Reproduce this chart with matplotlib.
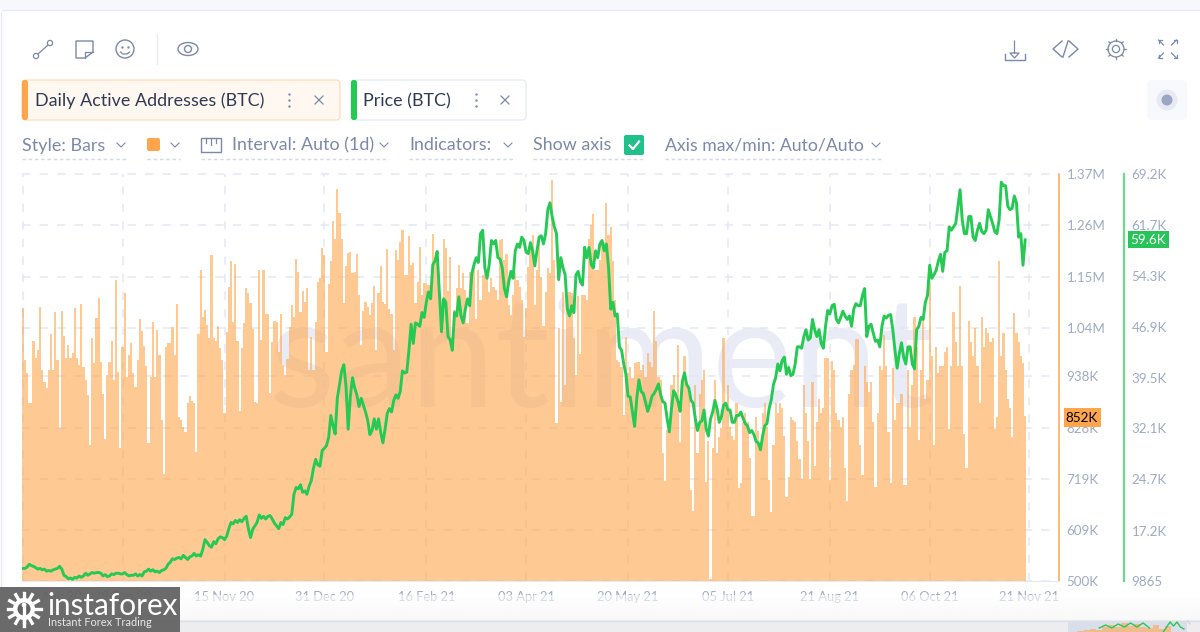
import numpy as np
import pandas as pd
import matplotlib
matplotlib.use('Agg')
import matplotlib.pyplot as plt
from matplotlib.patches import FancyBboxPatch, Rectangle, Circle, Ellipse, Polygon

plt.rcParams['font.family'] = ['Lato', 'DejaVu Sans']

# daily active addresses, thousands, one value per day from 14 Aug 20
active = [
    1084, 972, 945, 880, 880, 1012, 976, 994, 1086, 951,
    925, 912, 950, 1028, 951, 1076, 972, 827, 1078, 1024,
    976, 1004, 976, 988, 1083, 976, 962, 1092, 958, 930,
    898, 790, 1019, 965, 1063, 1104, 969, 900, 803, 940,
    969, 1012, 930, 1143, 947, 784, 1001, 1115, 937, 983,
    1009, 945, 915, 972, 1061, 1035, 1003, 960, 795, 937,
    1053, 937, 1037, 983, 844, 729, 1000, 1008, 1008, 1044,
    983, 1092, 850, 845, 830, 818, 880, 895, 885, 880,
    776, 1029, 1165, 1065, 1079, 1047, 1019, 1197, 1019, 1012,
    1045, 997, 972, 859, 1033, 1129, 1183, 1054, 1178, 1014,
    863, 997, 1052, 1126, 1115, 1094, 1039, 883, 880, 1165,
    1015, 1165, 1071, 1071, 902, 1010, 1056, 1054, 990, 1071,
    962, 940, 974, 1044, 1089, 1065, 1188, 1161, 1074, 1120,
    1097, 1126, 951, 1022, 951, 1054, 1140, 1147, 1211, 1197,
    990, 1135, 1183, 1270, 1230, 1337, 1286, 1230, 1095, 1173,
    1202, 1204, 1158, 1161, 1199, 1111, 1004, 1078, 1096, 1086,
    1069, 1095, 1130, 994, 1115, 1173, 1097, 1092, 1209, 1081,
    1071, 994, 1208, 1186, 1225, 1250, 1154, 1154, 1237, 1176,
    1179, 1094, 1140, 1215, 1111, 1138, 1138, 1133, 1122, 1242,
    1183, 1179, 1115, 1101, 1230, 1211, 1120, 1193, 1022, 1080,
    1126, 1176, 1126, 1158, 1122, 1052, 1161, 1143, 1179, 1059,
    1165, 1101, 1154, 1158, 1151, 1118, 1147, 1129, 1122, 1101,
    1229, 1232, 1186, 1200, 1090, 1069, 1112, 1158, 1143, 1129,
    1101, 1022, 1084, 1172, 1222, 1240, 1090, 1165, 1236, 1150,
    1045, 1118, 1168, 1158, 1357, 1186, 837, 1040, 883, 1118,
    920, 1090, 1118, 1115, 1020, 940, 1110, 985, 1112, 1112,
    1101, 1232, 1261, 1284, 1165, 1165, 1186, 1232, 1225, 1307,
    1240, 1257, 1183, 1101, 972, 969, 958, 855, 1022, 944,
    958, 933, 965, 969, 969, 951, 961, 937, 988, 969,
    958, 1078, 1012, 937, 930, 773, 714, 823, 819, 920,
    940, 905, 1004, 798, 930, 980, 925, 900, 694, 650,
    920, 773, 900, 930, 950, 712, 800, 504, 784, 930,
    773, 808, 826, 1019, 880, 920, 830, 810, 801, 880,
    698, 709, 840, 860, 840, 762, 640, 640, 850, 820,
    780, 860, 880, 830, 716, 647, 790, 880, 860, 880,
    870, 810, 680, 723, 850, 844, 840, 800, 760, 719,
    919, 860, 800, 719, 925, 745, 840, 890, 860, 870,
    976, 976, 716, 970, 950, 860, 845, 830, 850, 741,
    670, 900, 950, 961, 1017, 1017, 790, 727, 960, 925,
    905, 925, 840, 700, 860, 960, 950, 1026, 960, 819,
    709, 955, 845, 880, 880, 900, 705, 705, 950, 830,
    920, 1064, 1000, 801, 950, 1060, 890, 930, 1140, 980,
    791, 1000, 945, 960, 960, 990, 1000, 825, 960, 1075,
    1010, 960, 1131, 960, 815, 741, 1055, 1010, 980, 1040,
    960, 880, 1065, 1000, 1040, 1030, 1010, 1020, 825, 850,
    1185, 980, 1030, 950, 890, 870, 808, 1072, 1030, 1010,
    980, 965, 852,
]

# BTC price, thousands USD, same days
price = [
    11.7, 11.7, 11.9, 12.3, 12.1, 12.0, 11.8, 11.6, 11.7, 11.5,
    11.6, 11.3, 11.4, 11.3, 11.5, 11.6, 11.7, 12.0, 11.6, 10.7,
    10.5, 10.2, 10.3, 10.1, 10.4, 10.3, 10.6, 10.4, 10.6, 11.0,
    10.7, 10.9, 11.1, 11.0, 11.1, 11.1, 11.0, 10.6, 10.8, 10.5,
    10.6, 10.9, 10.8, 11.0, 11.0, 10.9, 10.9, 11.1, 10.8, 10.6,
    10.7, 10.7, 10.9, 10.6, 10.8, 10.6, 11.2, 11.3, 11.6, 11.3,
    11.5, 11.2, 11.3, 11.1, 11.4, 11.5, 11.7, 12.3, 12.6, 13.1,
    13.0, 13.2, 13.3, 13.1, 13.6, 13.3, 13.0, 13.4, 13.5, 13.9,
    13.5, 13.7, 13.5, 14.5, 15.9, 15.5, 15.0, 14.8, 15.6, 15.3,
    16.0, 16.3, 16.2, 15.9, 16.4, 17.5, 18.4, 18.2, 18.7, 18.4,
    18.8, 18.5, 19.0, 19.3, 17.5, 16.2, 17.4, 17.9, 18.4, 19.5,
    19.0, 19.3, 18.9, 19.3, 19.4, 18.9, 18.3, 17.9, 17.5, 18.4,
    18.1, 19.1, 18.9, 19.2, 19.6, 22.5, 23.5, 23.3, 23.9, 22.8,
    23.0, 22.5, 23.7, 24.5, 26.3, 27.6, 26.8, 26.6, 28.9, 29.2,
    29.6, 30.8, 34.0, 32.5, 31.3, 36.5, 38.5, 40.5, 41.4, 38.2,
    32.0, 36.8, 39.5, 38.0, 37.0, 35.3, 36.5, 35.5, 34.5, 33.3,
    31.2, 31.8, 33.5, 32.0, 33.5, 31.5, 30.0, 32.0, 34.3, 35.0,
    34.5, 36.2, 37.0, 36.5, 37.5, 40.5, 40.2, 40.3, 43.5, 47.3,
    44.5, 47.5, 47.3, 47.0, 49.0, 48.3, 50.5, 52.0, 51.0, 56.0,
    56.5, 57.9, 52.0, 46.2, 51.0, 50.5, 45.5, 45.0, 43.5, 49.0,
    48.5, 51.3, 48.5, 47.5, 49.5, 51.0, 50.0, 54.7, 56.0, 57.0,
    56.3, 60.5, 61.0, 55.5, 54.0, 56.0, 59.5, 59.0, 59.5, 57.0,
    56.8, 55.5, 52.5, 51.3, 53.5, 55.0, 54.0, 58.0, 59.0, 58.5,
    60.0, 59.5, 57.8, 57.6, 59.2, 58.0, 55.8, 58.0, 60.0, 60.2,
    59.0, 60.5, 64.0, 65.0, 63.0, 61.5, 60.5, 53.8, 57.0, 55.5,
    54.5, 49.5, 48.5, 50.0, 49.0, 54.5, 55.0, 53.5, 53.0, 58.5,
    57.0, 58.5, 56.0, 55.5, 58.0, 57.0, 59.0, 59.5, 58.0, 59.0,
    55.5, 49.5, 50.5, 48.5, 48.8, 44.0, 43.5, 41.5, 40.0, 36.8,
    36.7, 34.5, 32.4, 36.5, 39.2, 37.5, 37.2, 36.0, 34.6, 35.5,
    36.8, 37.2, 37.8, 38.6, 37.0, 36.0, 35.8, 33.5, 31.6, 35.0,
    37.6, 37.0, 36.0, 34.6, 39.0, 40.2, 38.5, 38.0, 36.2, 35.8,
    33.5, 31.8, 33.0, 33.2, 34.8, 32.0, 31.0, 33.5, 34.5, 36.2,
    35.0, 33.0, 33.8, 35.5, 35.8, 34.8, 34.8, 33.0, 33.0, 34.0,
    34.0, 34.5, 33.6, 32.8, 32.5, 31.5, 31.8, 31.2, 30.2, 30.0,
    29.0, 31.0, 32.5, 32.8, 35.0, 36.3, 38.5, 39.5, 41.5, 40.5,
    42.0, 42.5, 40.0, 41.0, 39.8, 40.0, 41.5, 44.0, 44.0, 43.8,
    45.5, 46.5, 45.0, 45.3, 48.0, 46.5, 45.5, 46.5, 44.5, 43.8,
    47.0, 49.3, 48.8, 50.0, 50.2, 48.0, 47.5, 48.3, 49.2, 48.5,
    48.0, 48.5, 47.0, 49.5, 50.3, 50.0, 50.0, 51.5, 52.5, 45.5,
    47.0, 47.3, 46.0, 44.8, 45.0, 44.0, 47.0, 48.5, 48.2, 48.6,
    48.7, 46.5, 43.5, 40.9, 43.0, 44.6, 42.5, 41.5, 44.0, 44.0,
    41.5, 40.8, 46.5, 47.0, 48.3, 48.0, 50.5, 51.5, 55.9, 54.0,
    54.5, 55.2, 56.5, 57.5, 55.0, 57.8, 58.0, 61.5, 61.0, 61.5,
    62.0, 64.5, 66.9, 62.5, 60.5, 60.5, 63.0, 63.0, 60.0, 59.5,
    61.0, 62.0, 60.8, 60.5, 61.0, 64.0, 63.0, 62.0, 60.8, 60.5,
    62.5, 68.0, 67.5, 67.5, 64.5, 64.0, 64.2, 66.0, 65.0, 60.0,
    60.5, 55.9, 59.6,
]

date_ticks = ['2020-08-14', '2020-09-29', '2020-11-15', '2020-12-31', '2021-02-16', '2021-04-03',
              '2021-05-20', '2021-07-05', '2021-08-21', '2021-10-06', '2021-11-21']
date_labels = ['14 Aug 20', '29 Sep 20', '15 Nov 20', '31 Dec 20', '16 Feb 21', '03 Apr 21',
               '20 May 21', '05 Jul 21', '21 Aug 21', '06 Oct 21', '21 Nov 21']
active_ticks = [1370, 1260, 1150, 1040, 938, 828, 719, 609, 500]
active_labels = ['1.37M', '1.26M', '1.15M', '1.04M', '938K', '828K', '719K', '609K', '500K']
price_ticks = [69.2, 61.7, 54.3, 46.9, 39.5, 32.1, 24.7, 17.2, 9.865]
price_labels = ['69.2K', '61.7K', '54.3K', '46.9K', '39.5K', '32.1K', '24.7K', '17.2K', '9865']

ORANGE = '#ffa64d'
GREEN = '#26c953'
GREY = '#9faac4'
MUTED = '#7c89a8'
DARK = '#2f3a55'
ICON = '#7b88a6'
GRID = '#e5e8f4'

W, H = 1200, 632
fig = plt.figure(figsize=(12, 6.32), dpi=100)
dates = pd.date_range('2020-08-14', periods=len(active))

# main chart, 22-1059 px wide, 174-581 px high
ax = fig.add_axes([22 / W, 1 - 581 / H, (1059 - 22) / W, (581 - 174) / H])
ax.bar(dates, active, width=1.0, color=ORANGE, alpha=0.6, linewidth=0, zorder=2)
ax.set_xlim(dates[0] - pd.Timedelta(hours=8), dates[0] + pd.Timedelta(days=477.6))
ax.set_ylim(500, 1370)
ax.set_xticks(pd.to_datetime(date_ticks), date_labels)
ax.set_yticks(active_ticks, active_labels)
ax.set_axisbelow(True)
ax.grid(True, color=GRID, lw=1.1, ls=(0, (5.5, 6)), zorder=1, clip_on=False)
for s in ['left', 'top']:
    ax.spines[s].set_visible(False)
ax.spines['bottom'].set_color('#e6e8f2')
ax.spines['right'].set_color(ORANGE)
ax.spines['right'].set_linewidth(1.1)
ax.text(0.5585, 0.4275, 'santiment', transform=ax.transAxes, ha='center', va='baseline',
        fontsize=110, color='#e9ecf6', zorder=0.5, family='Lato')

# price on its own axis further right
ax2 = ax.twinx()
ax.yaxis.tick_right()
ax.tick_params(axis='x', length=0, pad=7, labelsize=9.3, labelcolor=GREY)
ax.tick_params(axis='y', length=0, pad=5.5, labelsize=9.6, labelcolor=GREY)
ax.get_xticklabels()[0].set_ha('left')
ax2.plot(dates, price, color=GREEN, lw=2.1, solid_joinstyle='round', zorder=3)
ax2.set_ylim(9.865, 69.2)
ax2.set_yticks(price_ticks, price_labels)
ax2.tick_params(axis='y', length=0, pad=5.5, labelsize=9.6, labelcolor=GREY)
for s in ['left', 'top', 'bottom']:
    ax2.spines[s].set_visible(False)
ax2.spines['right'].set_position(('outward', 65 * 0.72))
ax2.spines['right'].set_color('#6ed98c')
ax2.spines['right'].set_linewidth(1.6)

# everything around the chart, in pixel coordinates
ui = fig.add_axes([0, 0, 1, 1], zorder=5)
ui.set_xlim(0, W)
ui.set_ylim(H, 0)
ui.axis('off')
ui.patch.set_alpha(0)


def rbox(x0, y0, x1, y1, r=3, fc='white', ec='none', lw=1.0, z=1, alpha=None):
    p = FancyBboxPatch((x0 + r, y0 + r), x1 - x0 - 2 * r, y1 - y0 - 2 * r,
                       boxstyle=f'round,pad={r},rounding_size={r}', fc=fc, ec=ec, lw=lw, zorder=z, alpha=alpha)
    ui.add_patch(p)


def chevron(x, y):
    ui.plot([x - 4, x, x + 4], [y - 2, y + 2, y - 2], color=MUTED, lw=0.8, zorder=3)


def under(x0, x1):
    ui.plot([x0, x1], [159, 159], color='#d5d9e6', lw=1, ls=(0, (2.5, 2)), zorder=3)


def cross(x, y, r=4):
    ui.plot([x - r, x + r], [y - r, y + r], color=MUTED, lw=0.9, zorder=3)
    ui.plot([x - r, x + r], [y + r, y - r], color=MUTED, lw=0.9, zorder=3)


def kebab(x, y):
    ui.scatter([x, x, x], [y - 6, y, y + 6], s=3, color=MUTED, zorder=3, linewidths=0)


# page edges
ui.add_patch(Rectangle((0, 0), W, 10, fc='#f7f8fc', ec='none', zorder=0))
ui.plot([2, W], [10, 10], color='#e7e9f3', lw=1, zorder=1)
ui.plot([1, 1], [12, 620], color='#e7e9f3', lw=1, zorder=1)
shade = np.linspace(1, 0.955, 30).reshape(-1, 1)
ui.imshow(shade, extent=(0, W, 620, 595), cmap='gray', vmin=0, vmax=1, aspect='auto', zorder=0.5, alpha=0.6)
ui.set_xlim(0, W)
ui.set_ylim(H, 0)
ui.add_patch(Rectangle((0, 620), W, 12, fc='#ededf0', ec='none', zorder=1))
ui.plot([0, W], [620.5, 620.5], color='#dcdfe9', lw=1, zorder=1.5)

# toolbar, left
ui.add_patch(Circle((36, 56), 2.6, fc='white', ec=ICON, lw=0.9, zorder=3))
ui.add_patch(Circle((50, 43), 2.6, fc='white', ec=ICON, lw=0.9, zorder=3))
ui.plot([38, 48], [54, 45], color=ICON, lw=0.9, zorder=2)
ui.add_patch(Polygon([(76, 41), (93, 41), (93, 52), (85, 58), (76, 58)], closed=True, fc='white', ec=ICON, lw=1, zorder=3))
ui.plot([85, 85, 93], [58, 52, 52], color=ICON, lw=0.9, zorder=3)
ui.add_patch(Circle((125, 49), 9, fc='white', ec=ICON, lw=1, zorder=3))
ui.scatter([122, 128], [47, 47], s=3, color=ICON, zorder=4, linewidths=0)
ui.plot([120.5, 123, 127, 129.5], [52, 54, 54, 52], color=ICON, lw=0.9, zorder=4)
ui.plot([157, 157], [34, 64], color='#e7e9f3', lw=1, zorder=3)
ui.add_patch(Ellipse((188, 49), 20, 13, fc='white', ec=ICON, lw=1, zorder=3))
ui.add_patch(Circle((188, 49), 3.5, fc='white', ec=ICON, lw=1, zorder=4))

# toolbar, right
ui.plot([1014.5, 1014.5, 1010, 1014.5, 1019, 1014.5], [41, 53, 53, 58, 53, 53], color=ICON, lw=0.9, zorder=3)
ui.plot([1005, 1005, 1025, 1025], [54, 60, 60, 54], color=ICON, lw=1, zorder=3)
ui.plot([1062, 1053, 1062], [41, 49, 57], color=ICON, lw=1, zorder=3)
ui.plot([1069, 1078, 1069], [41, 49, 57], color=ICON, lw=1, zorder=3)
ui.plot([1063, 1068], [57, 41], color=ICON, lw=1, zorder=3)
ui.add_patch(Circle((1116, 49), 3.6, fc='white', ec=ICON, lw=0.9, zorder=4))
ui.add_patch(Circle((1116, 49), 8, fc='white', ec=ICON, lw=0.9, zorder=3))
for a in np.deg2rad(np.arange(0, 360, 45)):
    ui.plot([1116 + 8 * np.cos(a), 1116 + 10 * np.cos(a)], [49 + 8 * np.sin(a), 49 + 10 * np.sin(a)],
            color=ICON, lw=0.9, zorder=3)
for sx, sy in [(-1, -1), (1, -1), (-1, 1), (1, 1)]:
    cx, cy = 1167.5 + sx * 9, 49 + sy * 9
    ui.plot([cx - sx * 3, cx, cx], [cy, cy, cy - sy * 3], color=ICON, lw=0.9, zorder=3)
    ui.plot([cx, cx - sx * 5], [cy, cy - sy * 5], color=ICON, lw=0.9, zorder=3)

# metric chips
rbox(22, 80, 340, 120, r=4, fc='#fff8f1', ec='#ffdcb9', lw=0.9)
rbox(22, 80, 28, 120, r=2.5, fc=ORANGE, z=2)
ui.text(35, 101, 'Daily Active Addresses (BTC)', fontsize=12.85, color=DARK, va='center', ha='left', zorder=3)
kebab(288.5, 100)
cross(319, 100)
rbox(351, 80, 526, 120, r=4, fc='white', ec='#e7eaf5', lw=0.9)
rbox(351, 80, 357, 120, r=2.5, fc=GREEN, z=2)
ui.text(363, 101, 'Price (BTC)', fontsize=12.85, color=DARK, va='center', ha='left', zorder=3)
kebab(475.5, 100)
cross(505, 100)
rbox(1147, 80, 1187, 120, r=5, fc='#f8f9fc')
ui.add_patch(Circle((1167, 100), 10.5, fc='#e8eaf3', ec='none', zorder=2))
ui.add_patch(Circle((1167, 100), 5.5, fc='#9aa6c4', ec='none', zorder=3))

# settings row
ui.text(22, 145.5, 'Style: Bars', fontsize=12.85, color=MUTED, va='center', zorder=3)
chevron(121, 145)
under(22, 127)
rbox(147, 138, 160, 151, r=2, fc=ORANGE, z=3)
chevron(175, 145)
under(147, 180)
ui.add_patch(Rectangle((201, 138), 20, 14, fc='white', ec=ICON, lw=1, zorder=3))
for x_, l_ in [(206, 5), (211, 7), (216, 5)]:
    ui.plot([x_, x_], [138, 138 + l_], color=ICON, lw=0.9, zorder=4)
ui.text(232, 145.5, 'Interval: Auto (1d)', fontsize=12.85, color=MUTED, va='center', zorder=3)
chevron(384, 145)
under(201, 389)
ui.text(409, 145.5, 'Indicators:', fontsize=12.85, color=MUTED, va='center', zorder=3)
chevron(508, 145)
under(409, 513)
ui.text(533, 145.5, 'Show axis', fontsize=12.85, color=MUTED, va='center', zorder=3)
under(533, 643)
rbox(624, 135, 644, 155, r=2, fc='#22c08b', z=3)
ui.plot([629.5, 633, 639], [145.5, 149, 141.5], color='white', lw=1.6, zorder=4)
ui.text(665, 145.5, 'Axis max/min: Auto/Auto', fontsize=12.7, color=MUTED, va='center', zorder=3)
chevron(876, 145)
under(665, 882)

# last value badges
ui.add_patch(Rectangle((1064, 408), 37, 19, fc=ORANGE, ec='none', zorder=3))
ui.text(1082, 418.5, '852K', fontsize=9.7, color='black', ha='center', va='center', zorder=4)
ui.add_patch(Rectangle((1128, 231), 41, 16.5, fc='#27c45a', ec='none', zorder=3))
ui.text(1148.5, 240, '59.6K', fontsize=9.7, color='white', ha='center', va='center', zorder=4)

# minimap corner
ui.add_patch(Rectangle((1068, 621), 119, 11, fc='#d9deea', ec='none', zorder=2))
mini = fig.add_axes([1068 / W, 0, 119 / W, 11 / H], zorder=6)
mini.axis('off')
mini.patch.set_alpha(0)
mini_bars = [0, 1, 2, 3, 2, 5, 7, 5, 9, 6, 8, 5, 4, 7, 3, 6, 2, 3]
mini_line = [0, 0, 0, 4, 7, 4, 8, 5, 9, 5, 9, 4, 0, 0, 0, 0, 0, 0]
mini_x = np.arange(len(mini_bars))
mini.bar(mini_x[:16] + 1, mini_bars[:16], width=1, color=ORANGE, alpha=0.6)
mini.plot(mini_x[3:12] + 2, mini_line[3:12], color=GREEN, lw=1)
mini_tail = [0, 5, 10, 6, 10, 5, 3]
mini.plot(np.arange(7) * 0.55 + 15.2, mini_tail, color=GREEN, lw=1)
mini.set_xlim(0, 19)
mini.set_ylim(0, 11)
ui.plot([1187.5, 1190], [621, 624], color='#d2d6e2', lw=1, zorder=3)

# logo box
ui.add_patch(Rectangle((0, 587), 180, 45, fc='#606060', ec='none', alpha=0.93, zorder=6))
ui.add_patch(Circle((24, 609), 11, fc='white', ec='none', zorder=7))
for a in np.deg2rad(np.arange(0, 360, 30)):
    ui.plot([24 + 11 * np.cos(a), 24 + 16.5 * np.cos(a)], [609 + 11 * np.sin(a), 609 + 16.5 * np.sin(a)],
            color='white', lw=2.4, zorder=7)
ui.add_patch(Circle((24, 609), 6.5, fc='#606060', ec='none', zorder=8))
ui.add_patch(Circle((24, 605), 2.4, fc='white', ec='none', zorder=9))
ui.plot([24, 24], [607, 622], color='white', lw=2.4, zorder=9)
ui.text(47, 606, 'instaforex', fontsize=21.3, color='white', va='center', ha='left', zorder=7, family='Lato')
ui.text(48, 623, 'Instant Forex Trading', fontsize=7.9, color='#e8e8e8', va='center', ha='left', zorder=7)

fig.savefig('out.png', dpi=100, facecolor='white')
